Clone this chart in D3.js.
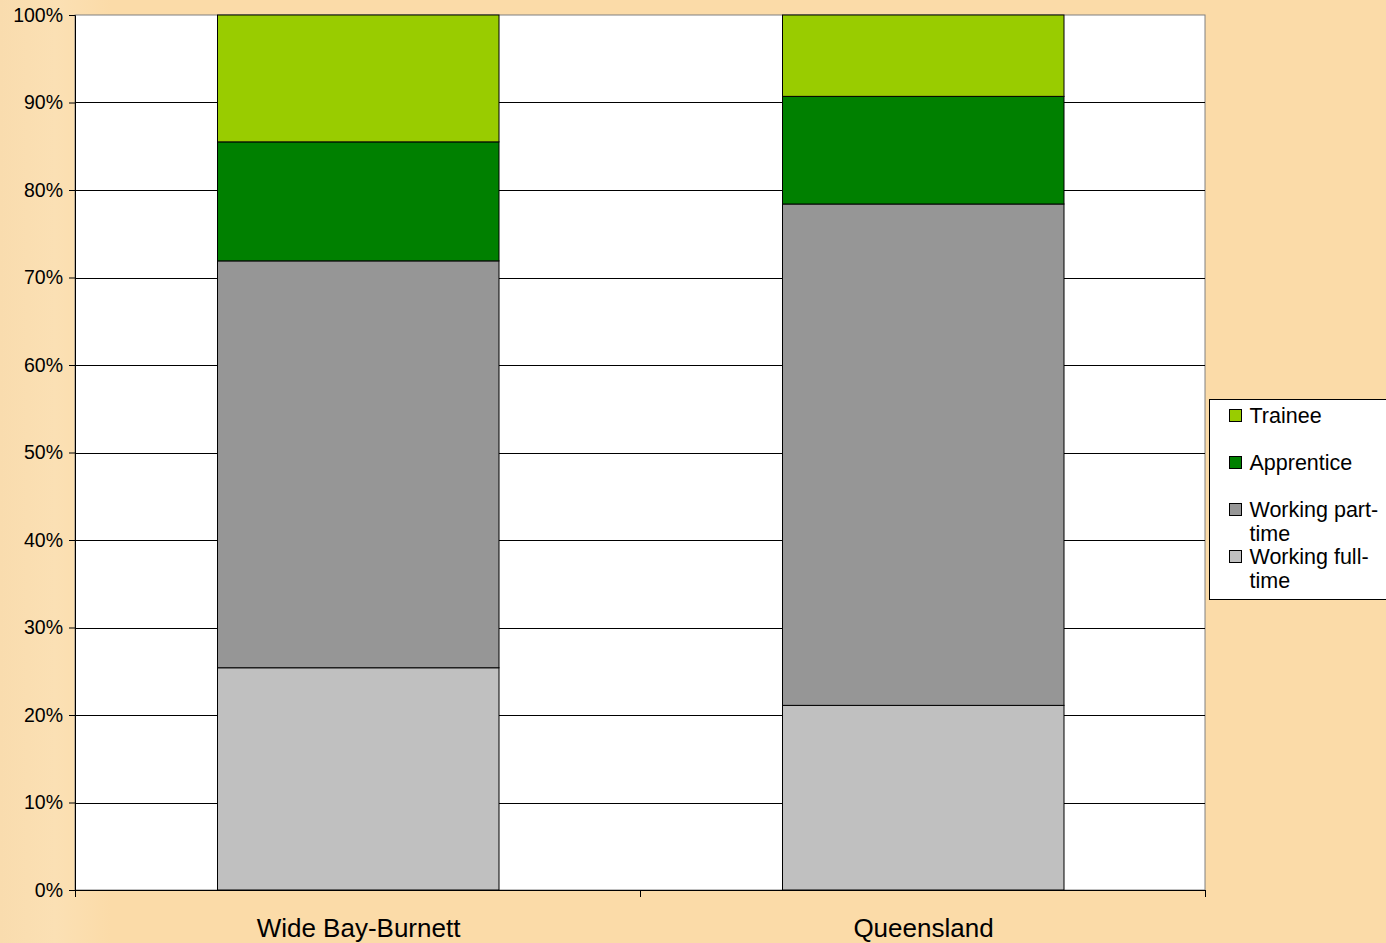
<!DOCTYPE html>
<html>
<head>
<meta charset="utf-8">
<script src="https://cdn.jsdelivr.net/npm/d3@7"></script>
<style>
  body { margin: 0; background: #fbdba8; overflow: hidden; }
  svg { display: block; }
</style>
</head>
<body>
<div id="chart"></div>
<script>
// chart values (percent of each region)
const regions = ['Wide Bay-Burnett', 'Queensland'];
const seriesNames = ['Working full-time', 'Working part-time', 'Apprentice', 'Trainee'];
const fullTime = [25.4, 21.1];
const partTime = [46.5, 57.3];
const apprentice = [13.6, 12.3];
const trainee = [14.5, 9.3];
const yTicks = [0, 10, 20, 30, 40, 50, 60, 70, 80, 90, 100];

const colors = ['#c0c0c0', '#969696', '#008000', '#99cc00'];
const width = 1386;
const height = 943;
const margin = { top: 15, right: 181, bottom: 53, left: 75 };
const plotW = width - margin.left - margin.right;
const plotH = height - margin.top - margin.bottom;

const svg = d3.select('#chart')
  .append('svg')
  .attr('width', width)
  .attr('height', height)
  .style('font-family', 'Arial, "Liberation Sans", sans-serif');

// soft background with lighter streak on the left
const defs = svg.append('defs');
const grad = defs.append('linearGradient').attr('id', 'bg').attr('x1', 0).attr('x2', 1);
grad.append('stop').attr('offset', '0%').attr('stop-color', '#f9dcae');
grad.append('stop').attr('offset', '4%').attr('stop-color', '#fbe0b4');
grad.append('stop').attr('offset', '8%').attr('stop-color', '#fbdba8');
grad.append('stop').attr('offset', '100%').attr('stop-color', '#fbdba8');
svg.append('rect').attr('width', width).attr('height', height).attr('fill', 'url(#bg)');

const g = svg.append('g').attr('transform', `translate(${margin.left},${margin.top})`);

const x = d3.scaleBand().domain(regions).range([0, plotW]).paddingInner(0.5).paddingOuter(0.25);
const y = d3.scaleLinear().domain([0, 100]).range([plotH, 0]);

// plot area
g.append('rect')
  .attr('width', plotW)
  .attr('height', plotH)
  .attr('fill', '#ffffff')
  .attr('stroke', '#808080')
  .attr('stroke-width', 1);

// gridlines
g.append('g')
  .selectAll('line')
  .data(yTicks.filter(d => d > 0 && d < 100))
  .join('line')
  .attr('x1', 0)
  .attr('x2', plotW)
  .attr('y1', d => Math.round(y(d)) + 0.5)
  .attr('y2', d => Math.round(y(d)) + 0.5)
  .attr('stroke', '#000')
  .attr('stroke-width', 1);

// stacked bars
const table = regions.map((r, i) => ({
  region: r,
  'Working full-time': fullTime[i],
  'Working part-time': partTime[i],
  'Apprentice': apprentice[i],
  'Trainee': trainee[i]
}));
const stacked = d3.stack().keys(seriesNames)(table);

g.append('g')
  .selectAll('g')
  .data(stacked)
  .join('g')
  .attr('fill', (d, i) => colors[i])
  .selectAll('rect')
  .data(d => d)
  .join('rect')
  .attr('x', d => Math.round(x(d.data.region)) + 1.5)
  .attr('y', d => y(d[1]))
  .attr('width', x.bandwidth() - 1)
  .attr('height', d => y(d[0]) - y(d[1]))
  .attr('stroke', '#000')
  .attr('stroke-width', 1);

// y axis
const yAxis = g.append('g')
  .call(d3.axisLeft(y).tickValues(yTicks).tickFormat(d => d + '%').tickSize(6).tickPadding(6));
yAxis.select('.domain').attr('stroke', '#000');
yAxis.selectAll('.tick line').attr('stroke', '#000');
yAxis.selectAll('text').attr('font-size', 19.5).attr('fill', '#000').style('font-family', 'Arial, "Liberation Sans", sans-serif');

// x axis: ticks at category boundaries
const xAxisG = g.append('g').attr('transform', `translate(0,${plotH})`);
xAxisG.append('line').attr('x1', 0).attr('x2', plotW).attr('y1', 0.5).attr('y2', 0.5).attr('stroke', '#000');
const boundaries = [0, plotW / 2, plotW];
xAxisG.selectAll('.bt')
  .data(boundaries)
  .join('line')
  .attr('class', 'bt')
  .attr('x1', d => d + 0.5)
  .attr('x2', d => d + 0.5)
  .attr('y1', 0)
  .attr('y2', 7)
  .attr('stroke', '#000');
xAxisG.selectAll('text')
  .data(regions)
  .join('text')
  .attr('x', d => x(d) + x.bandwidth() / 2 + 1)
  .attr('y', 47)
  .attr('text-anchor', 'middle')
  .attr('font-size', 26)
  .attr('fill', '#000')
  .text(d => d);

// legend
const legend = svg.append('g').attr('transform', 'translate(1209.5,399.5)');
legend.append('rect')
  .attr('width', 180)
  .attr('height', 200)
  .attr('fill', '#fff')
  .attr('stroke', '#000');

const legendItems = [
  { name: 'Trainee', lines: ['Trainee'], color: colors[3], y: 16 },
  { name: 'Apprentice', lines: ['Apprentice'], color: colors[2], y: 63 },
  { name: 'Working part-time', lines: ['Working part-', 'time'], color: colors[1], y: 110 },
  { name: 'Working full-time', lines: ['Working full-', 'time'], color: colors[0], y: 157 }
];

const li = legend.selectAll('.li')
  .data(legendItems)
  .join('g')
  .attr('class', 'li')
  .attr('transform', d => `translate(0,${d.y})`);
li.append('rect')
  .attr('x', 20)
  .attr('y', -6)
  .attr('width', 12)
  .attr('height', 12)
  .attr('fill', d => d.color)
  .attr('stroke', '#000');
li.append('text')
  .attr('x', 40)
  .attr('y', 7)
  .attr('font-size', 21.5)
  .attr('fill', '#000')
  .selectAll('tspan')
  .data(d => d.lines)
  .join('tspan')
  .attr('x', 40)
  .attr('dy', (d, i) => i === 0 ? 0 : 24)
  .text(d => d);
</script>
</body>
</html>
